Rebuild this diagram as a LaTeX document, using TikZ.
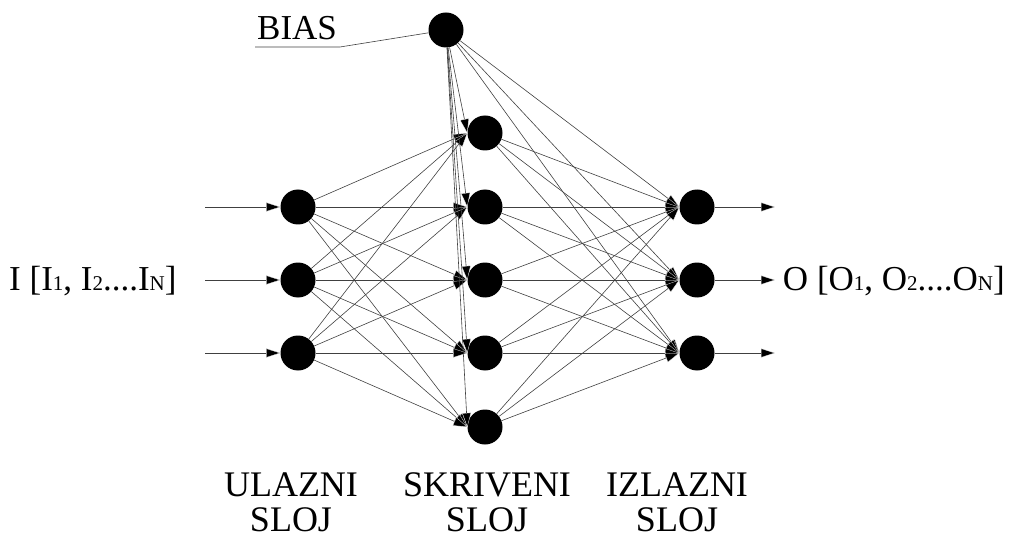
\documentclass[tikz,border=0pt]{standalone}
\usepackage{fontspec}
\setmainfont{Liberation Serif}
\usetikzlibrary{arrows.meta}

% small index letters set on the baseline
\newcommand\idx[1]{{\fontsize{21}{21}\selectfont #1}}

\begin{document}
\begin{tikzpicture}[x=1pt,y=-1pt,
  neuron/.style={circle,fill=black,minimum size=35pt,inner sep=0pt},
  link/.style={line width=0.6pt,black!75,
    -{Triangle[length=14pt,width=9pt,fill=black,color=white,line width=0.25pt]}},
  plain/.style={line width=0.6pt,black!75},
  lbl/.style={font=\fontsize{35}{37}\selectfont,inner sep=0pt},
  layer/.style={lbl,font=\fontsize{36}{38}\selectfont,text height=25pt,text depth=0pt}]
\useasboundingbox (0,0) rectangle (1011,537);

% bias neuron
\node[neuron] (b) at (446,30) {};

% input layer
\foreach \i/\y in {1/207,2/280,3/353}
  \node[neuron] (i\i) at (298,\y) {};
% hidden layer
\foreach \i/\y in {1/133,2/207,3/280,4/353,5/427}
  \node[neuron] (h\i) at (485,\y) {};
% output layer
\foreach \i/\y in {1/207,2/280,3/353}
  \node[neuron] (o\i) at (697,\y) {};

% external inputs and outputs
\foreach \i/\y in {1/207,2/280,3/353}{
  \coordinate (s\i) at (205,\y);
  \coordinate (t\i) at (775,\y);
  \draw[link] (s\i) -- (i\i.west);
  \draw[link] (o\i.east) -- (t\i);
}

% weighted connections
\foreach \h in {1,...,5}{
  \draw[link] (b) -- (h\h.west);
  \foreach \i in {1,2,3}
    \draw[link] (i\i) -- (h\h.west);
}
\foreach \o in {1,2,3}{
  \draw[link] (b) -- (o\o.west);
  \foreach \h in {1,...,5}
    \draw[link] (h\h) -- (o\o.west);
}

% labels
\node[lbl,anchor=base west] (bl) at (257,40) {BIAS};
\coordinate (u0) at (255,47);
\coordinate (u1) at (340,47);
\draw[plain] (u0) -- (u1) -- (b);

\node[lbl,anchor=base west] (inl) at (9,290) {I [I\idx{1}, I\idx{2}....I\idx{N}]};
\node[lbl,anchor=base east] (outl) at (1005,290) {O [O\idx{1}, O\idx{2}....O\idx{N}]};

\node[layer,anchor=base] (l1a) at (291,496) {ULAZNI};
\node[layer,anchor=base] (l1b) at (291,531) {SLOJ};
\node[layer,anchor=base] (l2a) at (487,496) {SKRIVENI};
\node[layer,anchor=base] (l2b) at (487,531) {SLOJ};
\node[layer,anchor=base] (l3a) at (677,496) {IZLAZNI};
\node[layer,anchor=base] (l3b) at (677,531) {SLOJ};
\end{tikzpicture}
\end{document}
